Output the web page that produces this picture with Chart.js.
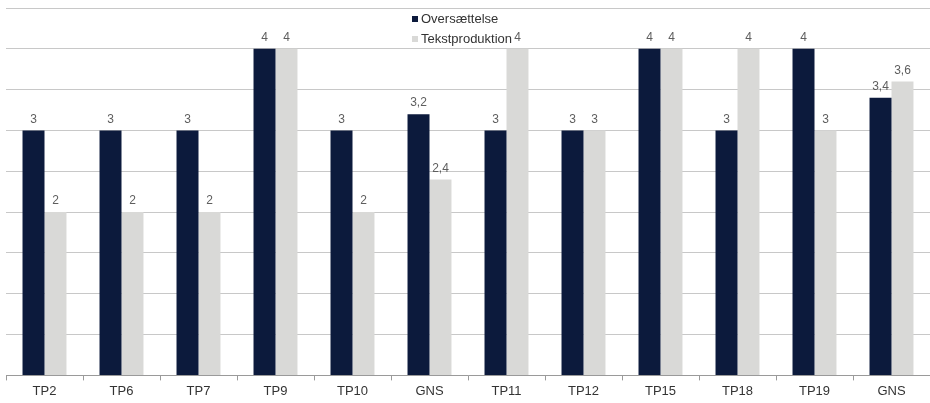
<!DOCTYPE html>
<html>
<head>
<meta charset="utf-8">
<script src="https://cdn.jsdelivr.net/npm/chart.js@4/dist/chart.umd.min.js"></script>
<style>
  html, body { margin: 0; padding: 0; background: #ffffff; }
  #wrap { width: 930px; height: 403px; position: relative; }
</style>
</head>
<body>
<div id="wrap"><canvas id="c" width="930" height="403"></canvas></div>
<script>
// Category labels along the x axis
const categories = ['TP2', 'TP6', 'TP7', 'TP9', 'TP10', 'GNS', 'TP11', 'TP12', 'TP15', 'TP18', 'TP19', 'GNS'];

// Scores per category
const oversaettelse   = [3, 3, 3, 4, 3, 3.2, 3, 3, 4, 3, 4, 3.4];
const tekstproduktion = [2, 2, 2, 4, 2, 2.4, 4, 3, 4, 4, 3, 3.6];

const seriesNames = ['Oversættelse', 'Tekstproduktion'];
const seriesColors = ['#0c1a3c', '#d9d9d7'];

const FONT = '"Liberation Sans", Arial, sans-serif';

// Writes each bar's value above it, Danish decimal comma
const valueLabels = {
  id: 'valueLabels',
  afterDatasetsDraw(chart) {
    const ctx = chart.ctx;
    ctx.save();
    ctx.font = '12px ' + FONT;
    ctx.fillStyle = '#5e5e5e';
    ctx.textAlign = 'center';
    ctx.textBaseline = 'bottom';
    chart.data.datasets.forEach((ds, di) => {
      chart.getDatasetMeta(di).data.forEach((bar, i) => {
        const txt = String(ds.data[i]).replace('.', ',');
        ctx.fillText(txt, bar.x, bar.y - 5);
      });
    });
    ctx.restore();
  }
};

// Small legend placed inside the plot near the top centre
const innerLegend = {
  id: 'innerLegend',
  afterDraw(chart) {
    const ctx = chart.ctx;
    ctx.save();
    ctx.font = '13px ' + FONT;
    ctx.textBaseline = 'middle';
    const x0 = 412, rows = [19, 39];
    seriesNames.forEach((name, i) => {
      ctx.fillStyle = seriesColors[i];
      ctx.fillRect(x0, rows[i] - 3, 6, 6);
      ctx.fillStyle = '#333333';
      ctx.fillText(name, x0 + 9, rows[i]);
    });
    ctx.restore();
  }
};

new Chart(document.getElementById('c'), {
  type: 'bar',
  data: {
    labels: categories,
    datasets: [
      { label: seriesNames[0], data: oversaettelse, backgroundColor: seriesColors[0] },
      { label: seriesNames[1], data: tekstproduktion, backgroundColor: seriesColors[1] }
    ]
  },
  options: {
    responsive: false,
    animation: false,
    devicePixelRatio: 1,
    layout: { padding: { left: 6, right: 0, top: 8, bottom: 1 } },
    datasets: {
      bar: { categoryPercentage: 0.571, barPercentage: 1.0 }
    },
    plugins: {
      legend: { display: false },
      tooltip: { enabled: false }
    },
    scales: {
      x: {
        grid: {
          drawOnChartArea: false,
          drawTicks: true,
          tickLength: 5,
          color: '#9a9a9a'
        },
        border: { display: true, color: '#9a9a9a', width: 1 },
        ticks: {
          color: '#333333',
          font: { family: FONT, size: 13 },
          padding: 3,
          maxRotation: 0,
          autoSkip: false
        }
      },
      y: {
        min: 0,
        max: 4.5,
        ticks: { display: false, stepSize: 0.5 },
        grid: { color: '#c8c8c8', drawTicks: false, lineWidth: 1 },
        border: { display: false }
      }
    }
  },
  plugins: [valueLabels, innerLegend]
});
</script>
</body>
</html>
